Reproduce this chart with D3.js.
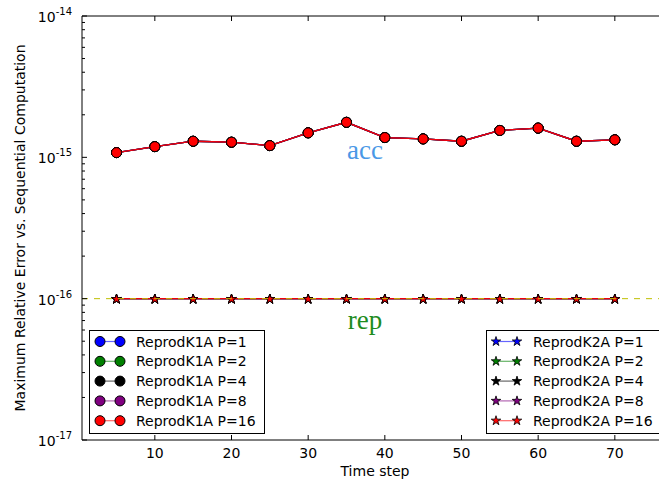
<!DOCTYPE html>
<html>
<head>
<meta charset="utf-8">
<script src="https://cdn.jsdelivr.net/npm/d3@7/dist/d3.min.js"></script>
<style>
body { margin: 0; background: #fff; }
text { font-family: "DejaVu Sans", sans-serif; }
</style>
</head>
<body>
<svg id="chart"></svg>
<script>
var width = 659;
var height = 483;

// data
var steps = [5, 10, 15, 20, 25, 30, 35, 40, 45, 50, 55, 60, 65, 70];
var accErr = [1.08e-15, 1.19e-15, 1.30e-15, 1.28e-15, 1.21e-15, 1.49e-15, 1.77e-15,
              1.38e-15, 1.35e-15, 1.30e-15, 1.55e-15, 1.61e-15, 1.30e-15, 1.33e-15];
var repErr = [1e-16, 1e-16, 1e-16, 1e-16, 1e-16, 1e-16, 1e-16,
              1e-16, 1e-16, 1e-16, 1e-16, 1e-16, 1e-16, 1e-16];
var procs = [1, 2, 4, 8, 16];
var procColors = ["#0000ff", "#008000", "#000000", "#800080", "#ff0000"];
var xTicks = [10, 20, 30, 40, 50, 60, 70];
var yDecades = [-17, -16, -15, -14];
var refLevel = 1e-16;

var svg = d3.select("#chart").attr("width", width).attr("height", height);

var x = d3.scaleLinear().domain([0.5, 77]).range([82, 668.5]);
var y = d3.scaleLog().domain([1e-17, 1e-14]).range([440, 16]);

var plot = svg.append("g");

// frame: top, left, bottom (right edge falls outside the window)
svg.append("line").attr("x1", x.range()[0]).attr("x2", x.range()[1]).attr("y1", 16).attr("y2", 16)
	.attr("stroke", "#000").attr("stroke-width", 1);
svg.append("line").attr("x1", x.range()[0]).attr("x2", x.range()[1]).attr("y1", 440).attr("y2", 440)
	.attr("stroke", "#000").attr("stroke-width", 1);
svg.append("line").attr("x1", 82).attr("x2", 82).attr("y1", 16).attr("y2", 440)
	.attr("stroke", "#000").attr("stroke-width", 1);

// x ticks, pointing inwards, bottom and top
xTicks.forEach(function(t) {
	svg.append("line").attr("x1", x(t)).attr("x2", x(t)).attr("y1", 440).attr("y2", 435)
		.attr("stroke", "#000");
	svg.append("line").attr("x1", x(t)).attr("x2", x(t)).attr("y1", 16).attr("y2", 21)
		.attr("stroke", "#000");
	svg.append("text").attr("x", x(t)).attr("y", 458).attr("text-anchor", "middle")
		.style("font-size", "14px").text(t);
});

// y ticks (log decades + minor)
yDecades.forEach(function(p) {
	var v = Math.pow(10, p);
	svg.append("line").attr("x1", 82).attr("x2", 87).attr("y1", y(v)).attr("y2", y(v))
		.attr("stroke", "#000");
	if (p < -14) {
		for (var m = 2; m <= 9; m++) {
			svg.append("line").attr("x1", 82).attr("x2", 85).attr("y1", y(m * v)).attr("y2", y(m * v))
				.attr("stroke", "#000");
		}
	}
	var lab = svg.append("text").attr("x", 72).attr("y", y(v) + 6).attr("text-anchor", "end")
		.style("font-size", "14px");
	lab.append("tspan").text("10");
	lab.append("tspan").attr("dy", -7).style("font-size", "10px").text(String(p));
});

// axis titles
svg.append("text").attr("x", 375).attr("y", 476).attr("text-anchor", "middle")
	.style("font-size", "14px").text("Time step");
svg.append("text").attr("transform", "translate(25,228) rotate(-90)").attr("text-anchor", "middle")
	.style("font-size", "14px").text("Maximum Relative Error vs. Sequential Computation");

var line = d3.line().x(function(d) { return x(d[0]); }).y(function(d) { return y(d[1]); });
var star = d3.symbol().type(d3.symbolStar).size(28);

// K1A series (circles) on the acc values
procs.forEach(function(p, i) {
	var pts = steps.map(function(s, j) { return [s, accErr[j]]; });
	plot.append("path").attr("d", line(pts)).attr("fill", "none")
		.attr("stroke", procColors[i]).attr("stroke-opacity", 0.9).attr("stroke-width", 1.3);
	plot.selectAll(null).data(pts).enter().append("circle")
		.attr("cx", function(d) { return x(d[0]); })
		.attr("cy", function(d) { return y(d[1]); })
		.attr("r", 5).attr("fill", procColors[i]).attr("stroke", "#000").attr("stroke-width", 1);
});

// K2A series (stars) on the rep values
procs.forEach(function(p, i) {
	var pts = steps.map(function(s, j) { return [s, repErr[j]]; });
	plot.append("path").attr("d", line(pts)).attr("fill", "none")
		.attr("stroke", procColors[i]).attr("stroke-opacity", 0.9).attr("stroke-width", 1.3);
	plot.selectAll(null).data(pts).enter().append("path")
		.attr("d", star)
		.attr("transform", function(d) { return "translate(" + x(d[0]) + "," + (y(d[1]) + 0.5) + ")"; })
		.attr("fill", procColors[i]).attr("stroke", "#000").attr("stroke-width", 0.8);
});

// reference dashed line
plot.append("line").attr("x1", 82).attr("x2", x.range()[1]).attr("y1", y(refLevel)).attr("y2", y(refLevel))
	.attr("stroke", "#bfbf00").attr("stroke-dasharray", "6,6").attr("stroke-width", 1);

// annotations
svg.append("text").attr("x", 365).attr("y", 159).attr("text-anchor", "middle")
	.style("font-family", "'Liberation Serif', serif").style("font-size", "27px")
	.attr("fill", "#4a98e6").text("acc");
svg.append("text").attr("x", 365).attr("y", 329).attr("text-anchor", "middle")
	.style("font-family", "'Liberation Serif', serif").style("font-size", "27px")
	.attr("fill", "#1e8c1e").text("rep");

// legends
function legend(x0, w, name, marker) {
	var g = svg.append("g");
	g.append("rect").attr("x", x0 + 0.5).attr("y", 330.5).attr("width", w).attr("height", 103)
		.attr("fill", "#fff").attr("stroke", "#000").attr("stroke-width", 1);
	procs.forEach(function(p, i) {
		var yy = 341.5 + i * 19.8;
		var ax = x0 + (marker === "circle" ? 11 : 10), bx = x0 + 31;
		g.append("line").attr("x1", ax).attr("x2", bx).attr("y1", yy).attr("y2", yy)
			.attr("stroke", procColors[i]).attr("stroke-opacity", 0.6).attr("stroke-width", 1.2);
		[ax, bx].forEach(function(mx) {
			if (marker === "circle") {
				g.append("circle").attr("cx", mx).attr("cy", yy).attr("r", 5)
					.attr("fill", procColors[i]).attr("stroke", "#000");
			} else {
				g.append("path").attr("d", star).attr("transform", "translate(" + mx + "," + yy + ")")
					.attr("fill", procColors[i]).attr("stroke", "#000").attr("stroke-width", 0.8);
			}
		});
		g.append("text").attr("x", x0 + 47).attr("y", yy + 5).style("font-size", "14px")
			.text(name + " P=" + p);
	});
}
legend(89, 175, "ReprodK1A", "circle");
legend(486, 200, "ReprodK2A", "star");
</script>
</body>
</html>
